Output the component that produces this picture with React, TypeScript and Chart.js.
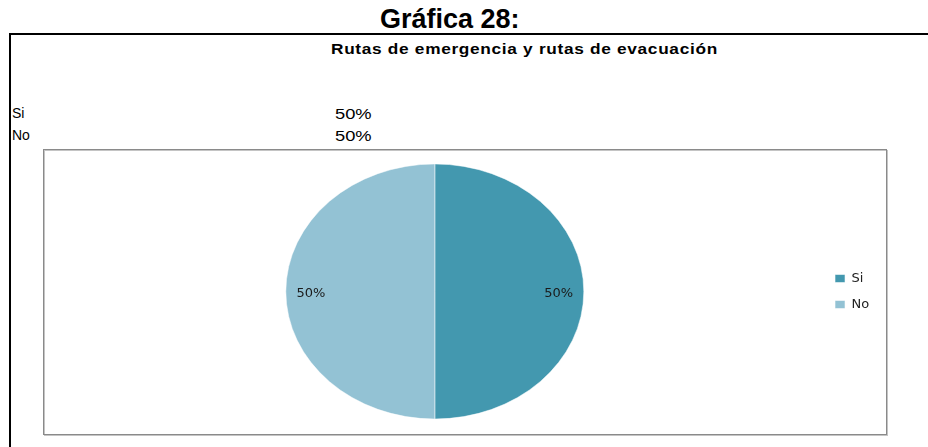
import React, { useEffect, useRef } from "react";
import { Chart, registerables } from "chart.js";

Chart.register(...registerables);

// ---- data ----
const pageTitle = "Gráfica 28:";
const chartTitle = "Rutas de emergencia y rutas de evacuación";
const categories = ["Si", "No"];
const values = [50, 50];
const percentLabels = ["50%", "50%"];
const sliceColors = ["#4398AF", "#93C2D4"];

// ---- style constants ----
const Y_SCALE = 127.3 / 148.7; // the pie is drawn as an ellipse in the reference
const SANS = "'Liberation Sans', Arial, sans-serif";
const LABEL_FONT = "'DejaVu Sans', Verdana, sans-serif";

export default function App() {
  const canvasRef = useRef<HTMLCanvasElement>(null);

  useEffect(() => {
    const canvas = canvasRef.current;
    if (!canvas) return;

    const ellipsePlugin = {
      id: "ellipseAndLabels",
      beforeDatasetsDraw(chart: any) {
        const { ctx, chartArea: a } = chart;
        const cx = (a.left + a.right) / 2;
        const cy = (a.top + a.bottom) / 2;
        ctx.save();
        ctx.translate(cx, cy);
        ctx.scale(1, Y_SCALE);
        ctx.translate(-cx, -cy);
      },
      afterDatasetsDraw(chart: any) {
        const { ctx } = chart;
        ctx.restore();
        const meta = chart.getDatasetMeta(0);
        ctx.save();
        ctx.font = `13px ${LABEL_FONT}`;
        ctx.fillStyle = "#1a1a1a";
        ctx.textAlign = "center";
        ctx.textBaseline = "middle";
        meta.data.forEach((arc: any, i: number) => {
          const p = arc.getProps(["x", "y", "startAngle", "endAngle", "outerRadius"], true);
          const mid = (p.startAngle + p.endAngle) / 2;
          const r = p.outerRadius * 0.832;
          ctx.fillText(
            percentLabels[i],
            p.x + Math.cos(mid) * r,
            p.y + Math.sin(mid) * r * Y_SCALE + 2
          );
        });
        ctx.restore();
      },
    };

    const chart = new Chart(canvas, {
      type: "pie",
      data: {
        labels: categories,
        datasets: [
          {
            data: values,
            backgroundColor: sliceColors,
            borderColor: "rgba(255,255,255,0.55)",
            borderWidth: 1,
          },
        ],
      },
      options: {
        responsive: false,
        animation: false,
        events: [],
        layout: { padding: { left: 47.6, right: 48.8, top: 142, bottom: 6 } },
        plugins: {
          title: { display: false },
          tooltip: { enabled: false },
          legend: {
            position: "right",
            align: "center",
            labels: {
              boxWidth: 10,
              boxHeight: 8,
              padding: 13,
              color: "#222222",
              font: { family: LABEL_FONT, size: 13 },
            },
          },
        },
      },
      plugins: [ellipsePlugin],
    });

    return () => chart.destroy();
  }, []);

  return (
    <div
      style={{
        position: "absolute",
        left: 0,
        top: 0,
        width: 928,
        height: 447,
        overflow: "hidden",
        background: "#ffffff",
        fontFamily: SANS,
        color: "#000",
      }}
    >
      {/* page title */}
      <div
        style={{
          position: "absolute",
          left: 380,
          top: 6,
          fontSize: 27,
          lineHeight: "27px",
          fontWeight: "bold",
          whiteSpace: "nowrap",
        }}
      >
        {pageTitle}
      </div>
      {/* outer frame (top + left black lines) */}
      <div
        style={{
          position: "absolute",
          left: 9,
          top: 33,
          width: 940,
          height: 440,
          borderTop: "2px solid #000",
          borderLeft: "2px solid #000",
        }}
      />
      {/* chart title */}
      <div
        style={{
          position: "absolute",
          left: 331,
          top: 41,
          fontSize: 15,
          lineHeight: "15px",
          fontWeight: "bold",
          letterSpacing: "0.6px",
          whiteSpace: "nowrap",
          transform: "scaleX(1.15)",
          transformOrigin: "left top",
        }}
      >
        {chartTitle}
      </div>
      {/* small data table */}
      {categories.map((c, i) => (
        <React.Fragment key={c}>
          <div
            style={{
              position: "absolute",
              left: 12,
              top: 106 + i * 22,
              fontSize: 14,
              lineHeight: "14px",
              whiteSpace: "nowrap",
            }}
          >
            {c}
          </div>
          <div
            style={{
              position: "absolute",
              left: 335,
              top: 105.5 + i * 22,
              fontSize: 15,
              lineHeight: "15px",
              whiteSpace: "nowrap",
              transform: "scaleX(1.22)",
              transformOrigin: "left top",
            }}
          >
            {percentLabels[i]}
          </div>
        </React.Fragment>
      ))}
      {/* plot box */}
      <div
        style={{
          position: "absolute",
          left: 43,
          top: 149,
          width: 844,
          height: 286,
          boxSizing: "border-box",
          border: "1px solid #8a8a8a",
          boxShadow: "1px 1px 0 #c4c4c4, inset 1px 1px 0 #c4c4c4",
        }}
      />
      <canvas
        ref={canvasRef}
        width={928}
        height={447}
        style={{ position: "absolute", left: 0, top: 0 }}
      />
    </div>
  );
}
